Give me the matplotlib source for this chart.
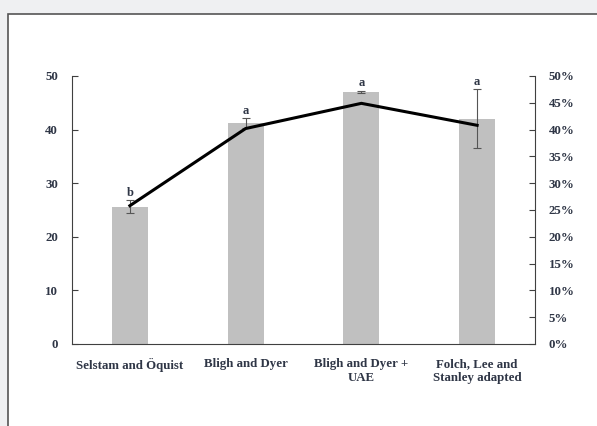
import matplotlib.pyplot as plt
from matplotlib.patches import Rectangle
import numpy as np

methods = ['Selstam and Öquist', 'Bligh and Dyer', 'Bligh and Dyer +\nUAE', 'Folch, Lee and\nStanley adapted']
lipid_mg = [25.6, 41.2, 47.0, 42.0]
lipid_err = [1.2, 0.9, 0.2, 5.5]
letters = ['b', 'a', 'a', 'a']
recovery_pct = [25.8, 40.2, 44.9, 40.8]

txt = '#2f3646'
axc = '#404040'
plt.rcParams['font.family'] = ['Liberation Serif', 'DejaVu Serif']
plt.rcParams['font.weight'] = 'bold'
plt.rcParams['font.size'] = 9.3

fig = plt.figure(figsize=(5.97, 4.26), dpi=100, facecolor='#eff0f2')
# white panel with a border on the left and top
fig.patches.append(Rectangle((8 / 597, -0.1), 1.1, 1.1 - 14 / 426, transform=fig.transFigure,
                             facecolor='white', edgecolor='#555555', linewidth=1.2, zorder=-10))

ax1 = fig.add_axes([72 / 597, 82 / 426, 463 / 597, 268 / 426])
ax1.set_facecolor('none')
x = np.arange(len(methods))
ax1.bar(x, lipid_mg, width=0.31, color='#c0c0c0', zorder=1)
ax1.errorbar(x, lipid_mg, yerr=lipid_err, fmt='none', ecolor='#555555', elinewidth=0.8,
             capsize=3, capthick=0.8, zorder=2)
for xi, v, e, lt in zip(x, lipid_mg, lipid_err, letters):
    ax1.text(xi, v + e + 0.3, lt, ha='center', va='bottom', color=txt, fontsize=9)

ax1.set_xlim(-0.5, 3.5)
ax1.set_ylim(0, 50)
ax1.set_yticks(range(0, 51, 10))
ax1.set_xticks(x)
ax1.set_xticklabels(methods, color=txt, linespacing=1.25)
ax1.tick_params(axis='x', length=0, pad=10)
ax1.tick_params(axis='y', direction='in', length=4, color=axc, pad=10)
for lbl in ax1.get_yticklabels():
    lbl.set_color(txt)
ax1.spines['top'].set_visible(False)
ax1.spines['right'].set_visible(False)
ax1.spines['left'].set_color(axc)
ax1.spines['bottom'].set_color(axc)

ax2 = ax1.twinx()
ax2.plot(x, np.array(recovery_pct) / 100, color='black', linewidth=2.2, zorder=3)
ax2.set_ylim(0, 0.5)
ax2.set_yticks(np.arange(0, 0.51, 0.05))
ax2.set_yticklabels([f'{int(round(t * 100))}%' for t in np.arange(0, 0.51, 0.05)], color=txt)
ax2.tick_params(axis='y', direction='in', length=4, color=axc, pad=10)
ax2.spines['top'].set_visible(False)
ax2.spines['left'].set_visible(False)
ax2.spines['bottom'].set_visible(False)
ax2.spines['right'].set_color(axc)

fig.savefig('out.png', dpi=100, facecolor=fig.get_facecolor())
